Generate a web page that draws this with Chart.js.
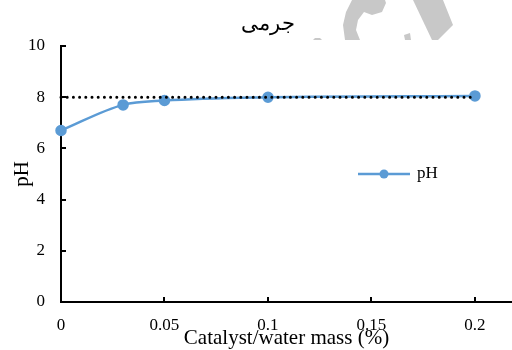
<!DOCTYPE html>
<html><head><meta charset="utf-8">
<script src="https://cdn.jsdelivr.net/npm/chart.js@4/dist/chart.umd.min.js"></script>
<style>html,body{margin:0;padding:0;background:#fff}#wrap{width:512px;height:350px}</style>
</head><body><div id="wrap"><canvas id="c" width="512" height="350"></canvas></div>
<script>
const massPercent = [0, 0.03, 0.05, 0.1, 0.2];
const phValues = [6.7, 7.7, 7.87, 8.0, 8.05];
const refLineX = [0, 0.2];
const refLineY = [8, 8];
const xTicks = [0, 0.05, 0.1, 0.15, 0.2];
const yTicks = [0, 2, 4, 6, 8, 10];
const titleText = 'جرمی';
const xTitle = 'Catalyst/water mass (%)';
const yTitle = 'pH';

const FONT = '"Liberation Serif", "Times New Roman", serif';

const watermark = {
  id: 'watermark',
  beforeDraw(chart) {
    const ctx = chart.ctx;
    ctx.save();
    ctx.fillStyle = '#c8c8c8';
    const polys = [
      [[413,0],[443,0],[453,25],[438,40],[432,40]],
      [[345,40],[360,40],[356,30],[358,20],[364,12],[372,15],[382,12],[386,3],[385,0],[352,0],[346,12],[343,25]],
      [[313,40],[322,40],[320,38],[315,38]],
      [[404,35],[410,33],[411,40],[405,40]]
    ];
    polys.forEach(p => { ctx.beginPath(); p.forEach((q, i) => i ? ctx.lineTo(q[0], q[1]) : ctx.moveTo(q[0], q[1])); ctx.closePath(); ctx.fill(); });
    ctx.restore();
  }
};
const decor = {
  id: 'decor',
  afterDraw(chart) {
    const ctx = chart.ctx, x = chart.scales.x, y = chart.scales.y, ca = chart.chartArea;
    ctx.save();
    ctx.strokeStyle = '#000'; ctx.lineWidth = 2;
    xTicks.forEach(v => { const px = Math.round(x.getPixelForValue(v)); ctx.beginPath(); ctx.moveTo(px, y.bottom); ctx.lineTo(px, y.bottom - 5); ctx.stroke(); });
    yTicks.forEach(v => { const py = Math.round(y.getPixelForValue(v)); ctx.beginPath(); ctx.moveTo(x.left, py); ctx.lineTo(x.left + 5, py); ctx.stroke(); });
    ctx.fillStyle = '#000'; ctx.textAlign = 'center'; ctx.textBaseline = 'middle';
    ctx.font = '21px ' + FONT;
    ctx.fillText(titleText, (ca.left + x.getPixelForValue(0.2)) / 2, 24);
    ctx.font = '21px ' + FONT;
    ctx.fillText(xTitle, (ca.left + ca.right) / 2, 338);
    ctx.translate(22, (ca.top + ca.bottom) / 2);
    ctx.rotate(-Math.PI / 2);
    ctx.fillText(yTitle, 0, 0);
    ctx.restore();
  }
};
const insideLegend = {
  id: 'insideLegend',
  afterDraw(chart) {
    const ctx = chart.ctx, ca = chart.chartArea, ds = chart.data.datasets[0];
    const cy = ca.top + (ca.bottom - ca.top) * 0.5;
    const x0 = 358, x1 = 410;
    ctx.save();
    ctx.strokeStyle = ds.borderColor; ctx.lineWidth = 2.5;
    ctx.beginPath(); ctx.moveTo(x0, cy); ctx.lineTo(x1, cy); ctx.stroke();
    ctx.fillStyle = ds.backgroundColor;
    ctx.beginPath(); ctx.arc((x0 + x1) / 2, cy, 4.5, 0, Math.PI * 2); ctx.fill();
    ctx.fillStyle = '#000'; ctx.font = '17px ' + FONT; ctx.textBaseline = 'middle';
    ctx.fillText(ds.label, x1 + 7, cy);
    ctx.restore();
  }
};

new Chart(document.getElementById('c'), {
  type: 'line',
  data: {
    datasets: [
      { label: 'pH', data: massPercent.map((v, i) => ({x: v, y: phValues[i]})),
        borderColor: '#5B9BD5', backgroundColor: '#5B9BD5', borderWidth: 2.5, clip: false,
        pointRadius: 4.5, pointHoverRadius: 4.5, cubicInterpolationMode: 'monotone', order: 2 },
      { label: 'ref', data: refLineX.map((v, i) => ({x: v, y: refLineY[i]})),
        borderColor: '#000', borderWidth: 3, borderDash: [0, 6.2], borderCapStyle: 'round',
        pointRadius: 0, clip: false, order: 1 }
    ]
  },
  options: {
    responsive: false, animation: false, devicePixelRatio: 1,
    layout: { autoPadding: false, padding: { top: 46, right: 0, left: 0, bottom: 0 } },
    plugins: { legend: { display: false }, tooltip: { enabled: false }, title: { display: false } },
    scales: {
      x: { type: 'linear', min: 0, max: 0.2179,
        afterBuildTicks: s => { s.ticks = xTicks.map(v => ({value: v})); },
        afterFit: s => { s.paddingRight = 0; s.paddingLeft = 0; s.height = 48; },
        grid: { display: true, drawOnChartArea: false, drawTicks: false },
        border: { display: true, color: '#000', width: 2 },
        ticks: { color: '#000', font: { family: FONT, size: 17 }, padding: 13, maxRotation: 0, callback: v => String(v) },
        title: { display: false } },
      y: { min: 0, max: 10,
        afterBuildTicks: s => { s.ticks = yTicks.map(v => ({value: v})); },
        afterFit: s => { s.width = 61; s.paddingTop = 0; s.paddingBottom = 0; },
        grid: { display: true, drawOnChartArea: false, drawTicks: false },
        border: { display: true, color: '#000', width: 2 },
        ticks: { color: '#000', font: { family: FONT, size: 17 }, padding: 16 },
        title: { display: false } }
    }
  },
  plugins: [watermark, decor, insideLegend]
});
</script></body></html>
